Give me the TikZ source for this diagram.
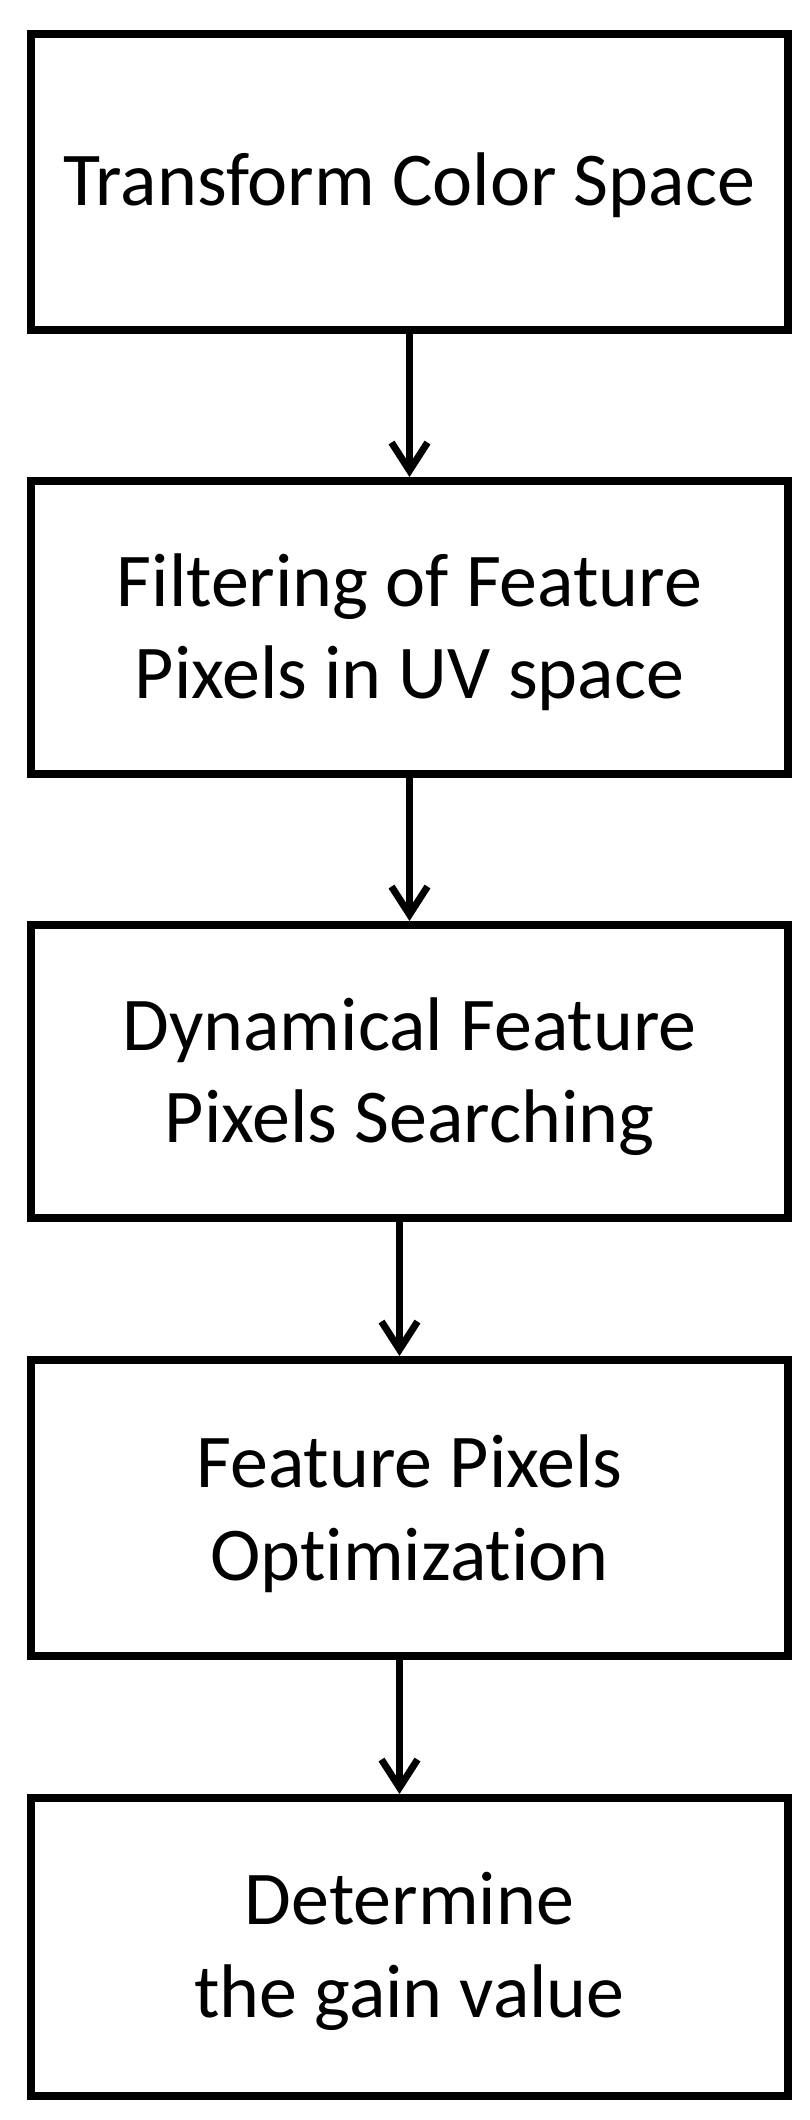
\documentclass[tikz,border=0pt]{standalone}
\usepackage{fontspec}
\setmainfont{Carlito}[Ligatures=NoCommon]
\usetikzlibrary{arrows.meta}
\begin{document}
\begin{tikzpicture}[x=1pt,y=-1pt,
  box/.style={draw=black, line width=8pt, minimum width=757pt, inner sep=0pt},
  txt/.style={font=\fontsize{76}{92.5}\selectfont, align=center, inner sep=0pt, anchor=base},
  arr/.style={line width=7pt, -{Straight Barb[length=28pt,width=36pt]}}]
\useasboundingbox (0,0) rectangle (810,2120);
\node[box, minimum height=296pt] (b1) at (409.5,182) {};
\node[box, minimum height=293pt] (b2) at (409.5,627.5) {};
\node[box, minimum height=293pt] (b3) at (409.5,1071.5) {};
\node[box, minimum height=296pt] (b4) at (409.5,1508) {};
\node[box, minimum height=298pt] (b5) at (409.5,1947) {};
\node[txt] (t1) at ([yshift=-23pt]b1.center) {Transform Color Space};
\node[txt] (t2) at ([yshift=-71pt]b2.center) {Filtering of Feature\\Pixels in UV space};
\node[txt] (t3) at ([yshift=-71pt]b3.center) {Dynamical Feature\\Pixels Searching};
\node[txt] (t4) at ([yshift=-72pt]b4.center) {Feature Pixels\\Optimization};
\node[txt] (t5) at ([yshift=-70pt]b5.center) {Determine\\the gain value};
\draw[arr] (b1.south) -- (b2.north);
\draw[arr] (b2.south) -- (b3.north);
\draw[arr] ([xshift=-10pt]b3.south) -- ([xshift=-10pt]b4.north);
\draw[arr] ([xshift=-10pt]b4.south) -- ([xshift=-10pt]b5.north);
\end{tikzpicture}
\end{document}
